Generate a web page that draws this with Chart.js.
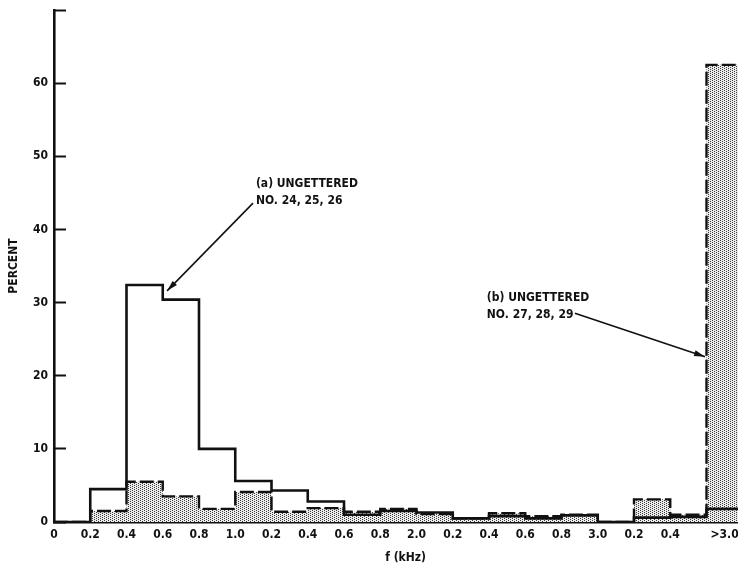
<!DOCTYPE html>
<html>
<head>
<meta charset="utf-8">
<script src="https://cdn.jsdelivr.net/npm/chart.js@4/dist/chart.umd.min.js"></script>
<style>
  html, body { margin: 0; padding: 0; background: #fff; overflow: hidden; }
  #wrap { width: 768px; height: 567px; }
</style>
</head>
<body>
<div id="wrap"><canvas id="c" width="768" height="567"></canvas></div>
<script>
// Frequency bin edges (0.2 kHz steps), labelled as printed under the axis
const binLabels = ['0', '0.2', '0.4', '0.6', '0.8', '1.0', '0.2', '0.4', '0.6', '0.8',
                   '2.0', '0.2', '0.4', '0.6', '0.8', '3.0', '0.2', '0.4', '>3.0'];

// Percent of events per bin, one value per bin starting at each label
const ungetteredA = [0, 4.5, 32.4, 30.4, 10.0, 5.6, 4.3, 2.8, 1.0, 1.5,
                     1.3, 0.5, 0.8, 0.5, 0.9, 0, 0.6, 0.7, 1.8];
const ungetteredB = [0, 1.5, 5.5, 3.5, 1.8, 4.1, 1.4, 1.9, 1.4, 1.8,
                     1.1, 0.5, 1.2, 0.8, 1.0, 0, 3.1, 1.0, 62.5];

const yTicks = [0, 10, 20, 30, 40, 50, 60, 70];

const INK = '#111';
const FONT = '"Liberation Sans Narrow", "DejaVu Sans Condensed", "Liberation Sans", sans-serif';

// Stippled halftone fill for the shaded histogram
function stipple() {
  const t = document.createElement('canvas');
  t.width = 4; t.height = 4;
  const g = t.getContext('2d');
  g.fillStyle = '#ececec';
  g.fillRect(0, 0, 4, 4);
  g.fillStyle = '#3a3a3a';
  [[0, 0], [2, 1], [0, 2], [2, 3]].forEach(([x, y]) => g.fillRect(x, y, 1, 1));
  return g.createPattern(t, 'repeat');
}

// Step outline: one point per bin start, plus the closing edge of the last bin
function steps(values) {
  const pts = values.map((v, i) => ({ x: i, y: v }));
  pts.push({ x: values.length, y: values[values.length - 1] });
  return pts;
}

// Callout labels with leader arrows, placed in data units
const callouts = [
  { lines: ['(a) UNGETTERED', 'NO. 24, 25, 26'], x: 5.57, y: 46.2, tail: [5.49, 43.6], tip: [3.12, 31.6] },
  { lines: ['(b) UNGETTERED', 'NO. 27, 28, 29'], x: 11.94, y: 30.6, tail: [14.37, 28.55], tip: [17.96, 22.6] }
];

const calloutPlugin = {
  id: 'callouts',
  afterDatasetsDraw(chart) {
    const { ctx, scales: { x, y } } = chart;
    ctx.save();
    ctx.fillStyle = INK;
    ctx.strokeStyle = INK;
    ctx.font = 'bold 12px ' + FONT;
    ctx.textBaseline = 'middle';
    ctx.textAlign = 'left';
    callouts.forEach(c => {
      const px = x.getPixelForValue(c.x);
      const py = y.getPixelForValue(c.y);
      c.lines.forEach((t, i) => ctx.fillText(t, px, py + i * 17));
      const x1 = x.getPixelForValue(c.tail[0]), y1 = y.getPixelForValue(c.tail[1]);
      const x2 = x.getPixelForValue(c.tip[0]), y2 = y.getPixelForValue(c.tip[1]);
      ctx.lineWidth = 1.6;
      ctx.beginPath();
      ctx.moveTo(x1, y1);
      ctx.lineTo(x2, y2);
      ctx.stroke();
      const a = Math.atan2(y2 - y1, x2 - x1);
      const L = 11, W = 3;
      ctx.beginPath();
      ctx.moveTo(x2, y2);
      ctx.lineTo(x2 - L * Math.cos(a) + W * Math.sin(a), y2 - L * Math.sin(a) - W * Math.cos(a));
      ctx.lineTo(x2 - L * Math.cos(a) - W * Math.sin(a), y2 - L * Math.sin(a) + W * Math.cos(a));
      ctx.closePath();
      ctx.fill();
    });
    ctx.restore();
  }
};

new Chart(document.getElementById('c'), {
  type: 'line',
  data: {
    datasets: [
      {
        label: '(a) UNGETTERED NO. 24, 25, 26',
        data: steps(ungetteredA),
        stepped: 'before',
        borderColor: INK,
        borderWidth: 2.6,
        pointRadius: 0,
        fill: false,
        order: 0
      },
      {
        label: '(b) UNGETTERED NO. 27, 28, 29',
        data: steps(ungetteredB),
        stepped: 'before',
        borderColor: INK,
        borderWidth: 2.4,
        borderDash: [14, 4],
        pointRadius: 0,
        fill: 'origin',
        backgroundColor: stipple(),
        order: 1
      }
    ]
  },
  options: {
    responsive: false,
    animation: false,
    devicePixelRatio: 1,
    layout: { padding: { left: 0, top: 10, right: 10.75, bottom: 0 } },
    plugins: { legend: { display: false }, tooltip: { enabled: false } },
    scales: {
      x: {
        type: 'linear',
        min: 0,
        max: 19.4,
        afterFit(s) { s.height = 45; s.paddingLeft = 0; s.paddingRight = 0; },
        afterBuildTicks(s) {
          s.ticks = binLabels.map((_, i) => ({ value: i === binLabels.length - 1 ? i + 0.5 : i }));
        },
        grid: { display: true, drawOnChartArea: false, drawTicks: false },
        border: { display: true, color: INK, width: 2.6 },
        ticks: {
          autoSkip: false,
          maxRotation: 0,
          padding: 6,
          color: INK,
          font: { family: FONT, size: 12, weight: 'bold' },
          callback: (v, i) => binLabels[i]
        },
        title: {
          display: true,
          text: 'f (kHz)',
          color: INK,
          font: { family: FONT, size: 12, weight: 'bold' },
          padding: { top: 0, bottom: 2 }
        }
      },
      y: {
        min: 0,
        max: 70,
        afterFit(s) { s.width = 54; s.paddingTop = 0; s.paddingBottom = 0; },
        afterBuildTicks(s) { s.ticks = yTicks.map(v => ({ value: v })); },
        grid: {
          display: true,
          drawOnChartArea: false,
          drawTicks: true,
          tickLength: -12,
          tickWidth: 2,
          tickColor: INK
        },
        border: { display: true, color: INK, width: 2.6 },
        ticks: {
          padding: 18,
          color: INK,
          font: { family: FONT, size: 12, weight: 'bold' },
          callback: v => (v === 70 ? '' : String(v))
        },
        title: {
          display: true,
          text: 'PERCENT',
          color: INK,
          font: { family: FONT, size: 12, weight: 'bold' },
          padding: { top: 7, bottom: 0 }
        }
      }
    }
  },
  plugins: [calloutPlugin]
});
</script>
</body>
</html>
